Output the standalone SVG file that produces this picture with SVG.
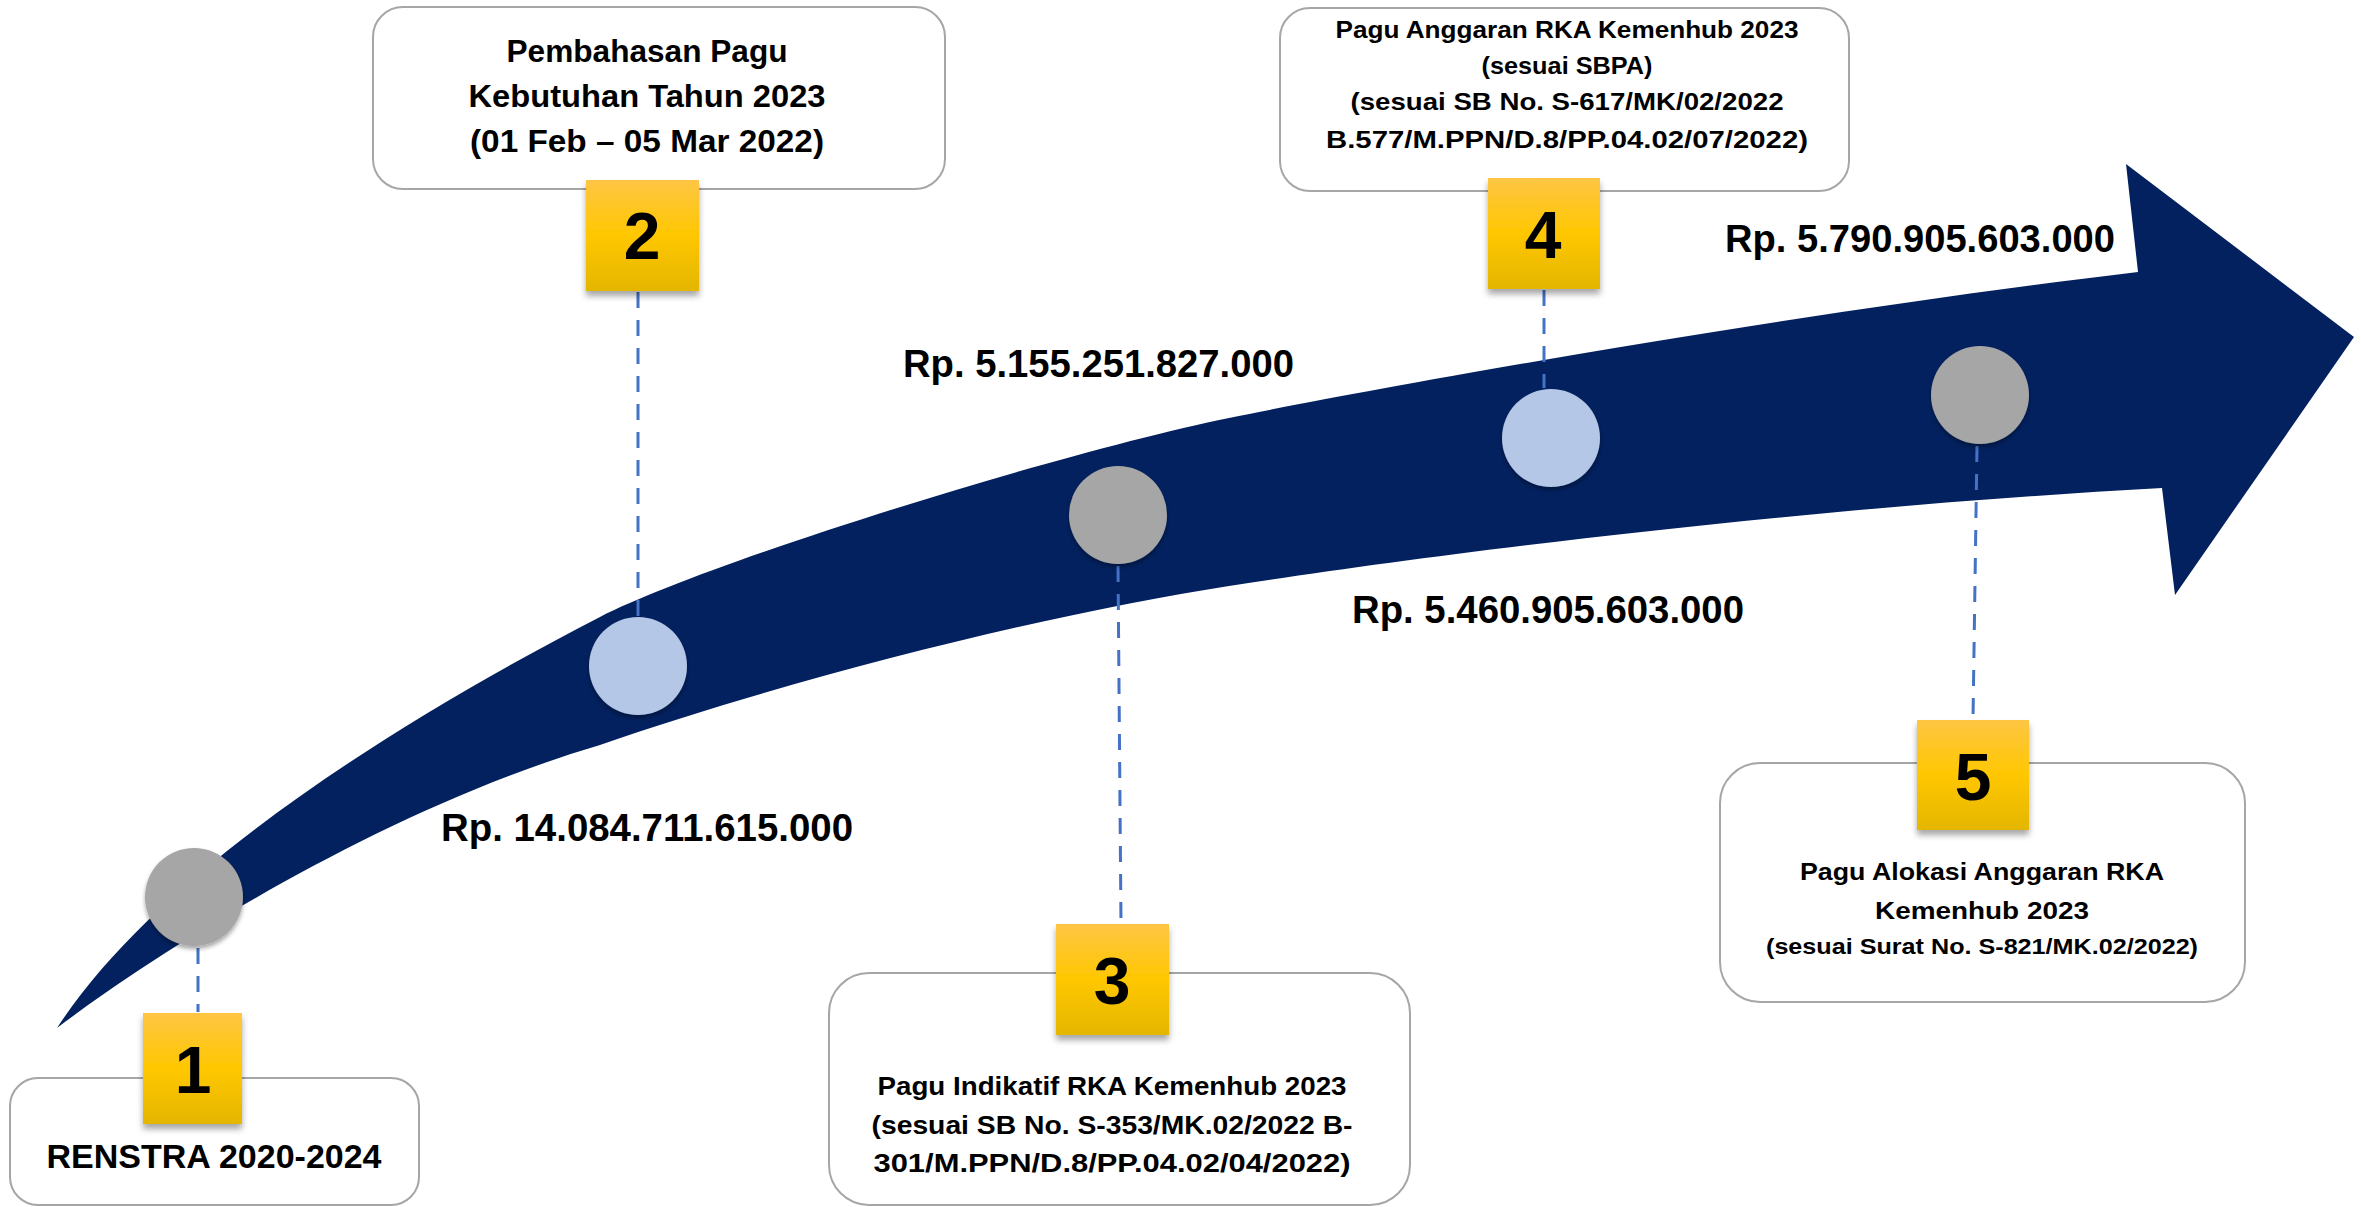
<svg xmlns="http://www.w3.org/2000/svg" width="2361" height="1207" viewBox="0 0 2361 1207">
<style>
.box{fill:#fff;stroke:#A6A6A6;stroke-width:2}
.badge{fill:url(#gold);filter:url(#bsh)}
.dot{filter:url(#csh)}
.grey{fill:#A6A6A6}
.blue{fill:#B4C7E7}
.num{font-family:"Liberation Sans",Arial,sans-serif;font-weight:bold;font-size:66px;text-anchor:middle;fill:#000}
.lbl{font-family:"Liberation Sans",Arial,sans-serif;font-weight:bold;text-anchor:middle;fill:#000}
.amt{font-family:"Liberation Sans",Arial,sans-serif;font-weight:bold;font-size:38px;fill:#000}
.conn{stroke:#4472C4;stroke-width:3;stroke-dasharray:16 12;fill:none}
</style>
<defs>
<linearGradient id="gold" x1="0" y1="0" x2="0" y2="1">
<stop offset="0" stop-color="#FEC544"/>
<stop offset="0.5" stop-color="#FFC700"/>
<stop offset="1" stop-color="#E4B600"/>
</linearGradient>
<filter id="bsh" x="-20%" y="-20%" width="140%" height="150%">
<feDropShadow dx="0" dy="5" stdDeviation="3" flood-color="#000" flood-opacity="0.35"/>
</filter>
<filter id="csh" x="-20%" y="-20%" width="140%" height="150%">
<feDropShadow dx="0" dy="3" stdDeviation="2" flood-color="#000" flood-opacity="0.35"/>
</filter>
</defs>
<rect width="2361" height="1207" fill="#fff"/>
<g id="arrow">
<path fill="#03215F" d="M 57,1028 C 160,870 400,720 600,617 C 703,564 1050,455 1229,418 C 1390,385 1800,312 2138,272 L 2126,164 L 2354,337 L 2175,595 L 2162,488 C 1800,508 1450,552 1229,586 C 1049,614 800,676 600,745 C 380,810 160,950 57,1028 Z"/>
</g>
<g id="connectors">
<line class="conn" x1="198" y1="948" x2="198" y2="1012"/>
<line class="conn" x1="638" y1="292" x2="638" y2="616"/>
<line class="conn" x1="1118" y1="566" x2="1121" y2="923"/>
<line class="conn" x1="1544" y1="290" x2="1544" y2="388"/>
<line class="conn" x1="1977" y1="446" x2="1973" y2="719"/>
</g>
<g id="amounts">
<text class="amt" x="441" y="841" textLength="412" lengthAdjust="spacingAndGlyphs">Rp. 14.084.711.615.000</text>
<text class="amt" x="903" y="377" textLength="391" lengthAdjust="spacingAndGlyphs">Rp. 5.155.251.827.000</text>
<text class="amt" x="1352" y="623" textLength="392" lengthAdjust="spacingAndGlyphs">Rp. 5.460.905.603.000</text>
<text class="amt" x="1725" y="252" textLength="390" lengthAdjust="spacingAndGlyphs">Rp. 5.790.905.603.000</text>
</g>
<g id="step1">
<circle class="dot grey" cx="194" cy="897" r="49"/>
<rect class="box" x="10" y="1078" width="409" height="127" rx="28"/>
<rect class="badge" x="143" y="1013" width="99" height="111"/>
<text class="num" x="193" y="1093">1</text>
<text class="lbl" x="214" y="1168" font-size="33" textLength="335" lengthAdjust="spacingAndGlyphs">RENSTRA 2020-2024</text>
</g>
<g id="step2">
<circle class="dot blue" cx="638" cy="666" r="49"/>
<rect class="box" x="373" y="7" width="572" height="182" rx="30"/>
<rect class="badge" x="586" y="180" width="113" height="111"/>
<text class="num" x="642" y="259">2</text>
<text class="lbl" x="647" y="62" font-size="31" textLength="281" lengthAdjust="spacingAndGlyphs">Pembahasan Pagu</text>
<text class="lbl" x="647" y="107" font-size="31" textLength="357" lengthAdjust="spacingAndGlyphs">Kebutuhan Tahun 2023</text>
<text class="lbl" x="647" y="152" font-size="31" textLength="354" lengthAdjust="spacingAndGlyphs">(01 Feb – 05 Mar 2022)</text>
</g>
<g id="step3">
<circle class="dot grey" cx="1118" cy="515" r="49"/>
<rect class="box" x="829" y="973" width="581" height="232" rx="40"/>
<rect class="badge" x="1056" y="924" width="113" height="111"/>
<text class="num" x="1112" y="1004">3</text>
<text class="lbl" x="1112" y="1095" font-size="26" textLength="469" lengthAdjust="spacingAndGlyphs">Pagu Indikatif RKA Kemenhub 2023</text>
<text class="lbl" x="1112" y="1134" font-size="26" textLength="481" lengthAdjust="spacingAndGlyphs">(sesuai SB No. S-353/MK.02/2022 B-</text>
<text class="lbl" x="1112" y="1172" font-size="26" textLength="477" lengthAdjust="spacingAndGlyphs">301/M.PPN/D.8/PP.04.02/04/2022)</text>
</g>
<g id="step4">
<circle class="dot blue" cx="1551" cy="438" r="49"/>
<rect class="box" x="1280" y="8" width="569" height="183" rx="30"/>
<rect class="badge" x="1488" y="178" width="112" height="111"/>
<text class="num" x="1543" y="258">4</text>
<text class="lbl" x="1567" y="38" font-size="24" textLength="463" lengthAdjust="spacingAndGlyphs">Pagu Anggaran RKA Kemenhub 2023</text>
<text class="lbl" x="1567" y="74" font-size="24" textLength="171" lengthAdjust="spacingAndGlyphs">(sesuai SBPA)</text>
<text class="lbl" x="1567" y="110" font-size="24" textLength="433" lengthAdjust="spacingAndGlyphs">(sesuai SB No. S-617/MK/02/2022</text>
<text class="lbl" x="1567" y="148" font-size="24" textLength="482" lengthAdjust="spacingAndGlyphs">B.577/M.PPN/D.8/PP.04.02/07/2022)</text>
</g>
<g id="step5">
<circle class="dot grey" cx="1980" cy="395" r="49"/>
<rect class="box" x="1720" y="763" width="525" height="239" rx="40"/>
<rect class="badge" x="1917" y="720" width="112" height="110"/>
<text class="num" x="1973" y="800">5</text>
<text class="lbl" x="1982" y="880" font-size="24" textLength="364" lengthAdjust="spacingAndGlyphs">Pagu Alokasi Anggaran RKA</text>
<text class="lbl" x="1982" y="919" font-size="24" textLength="214" lengthAdjust="spacingAndGlyphs">Kemenhub 2023</text>
<text class="lbl" x="1982" y="954" font-size="22" textLength="432" lengthAdjust="spacingAndGlyphs">(sesuai Surat No. S-821/MK.02/2022)</text>
</g>
</svg>
